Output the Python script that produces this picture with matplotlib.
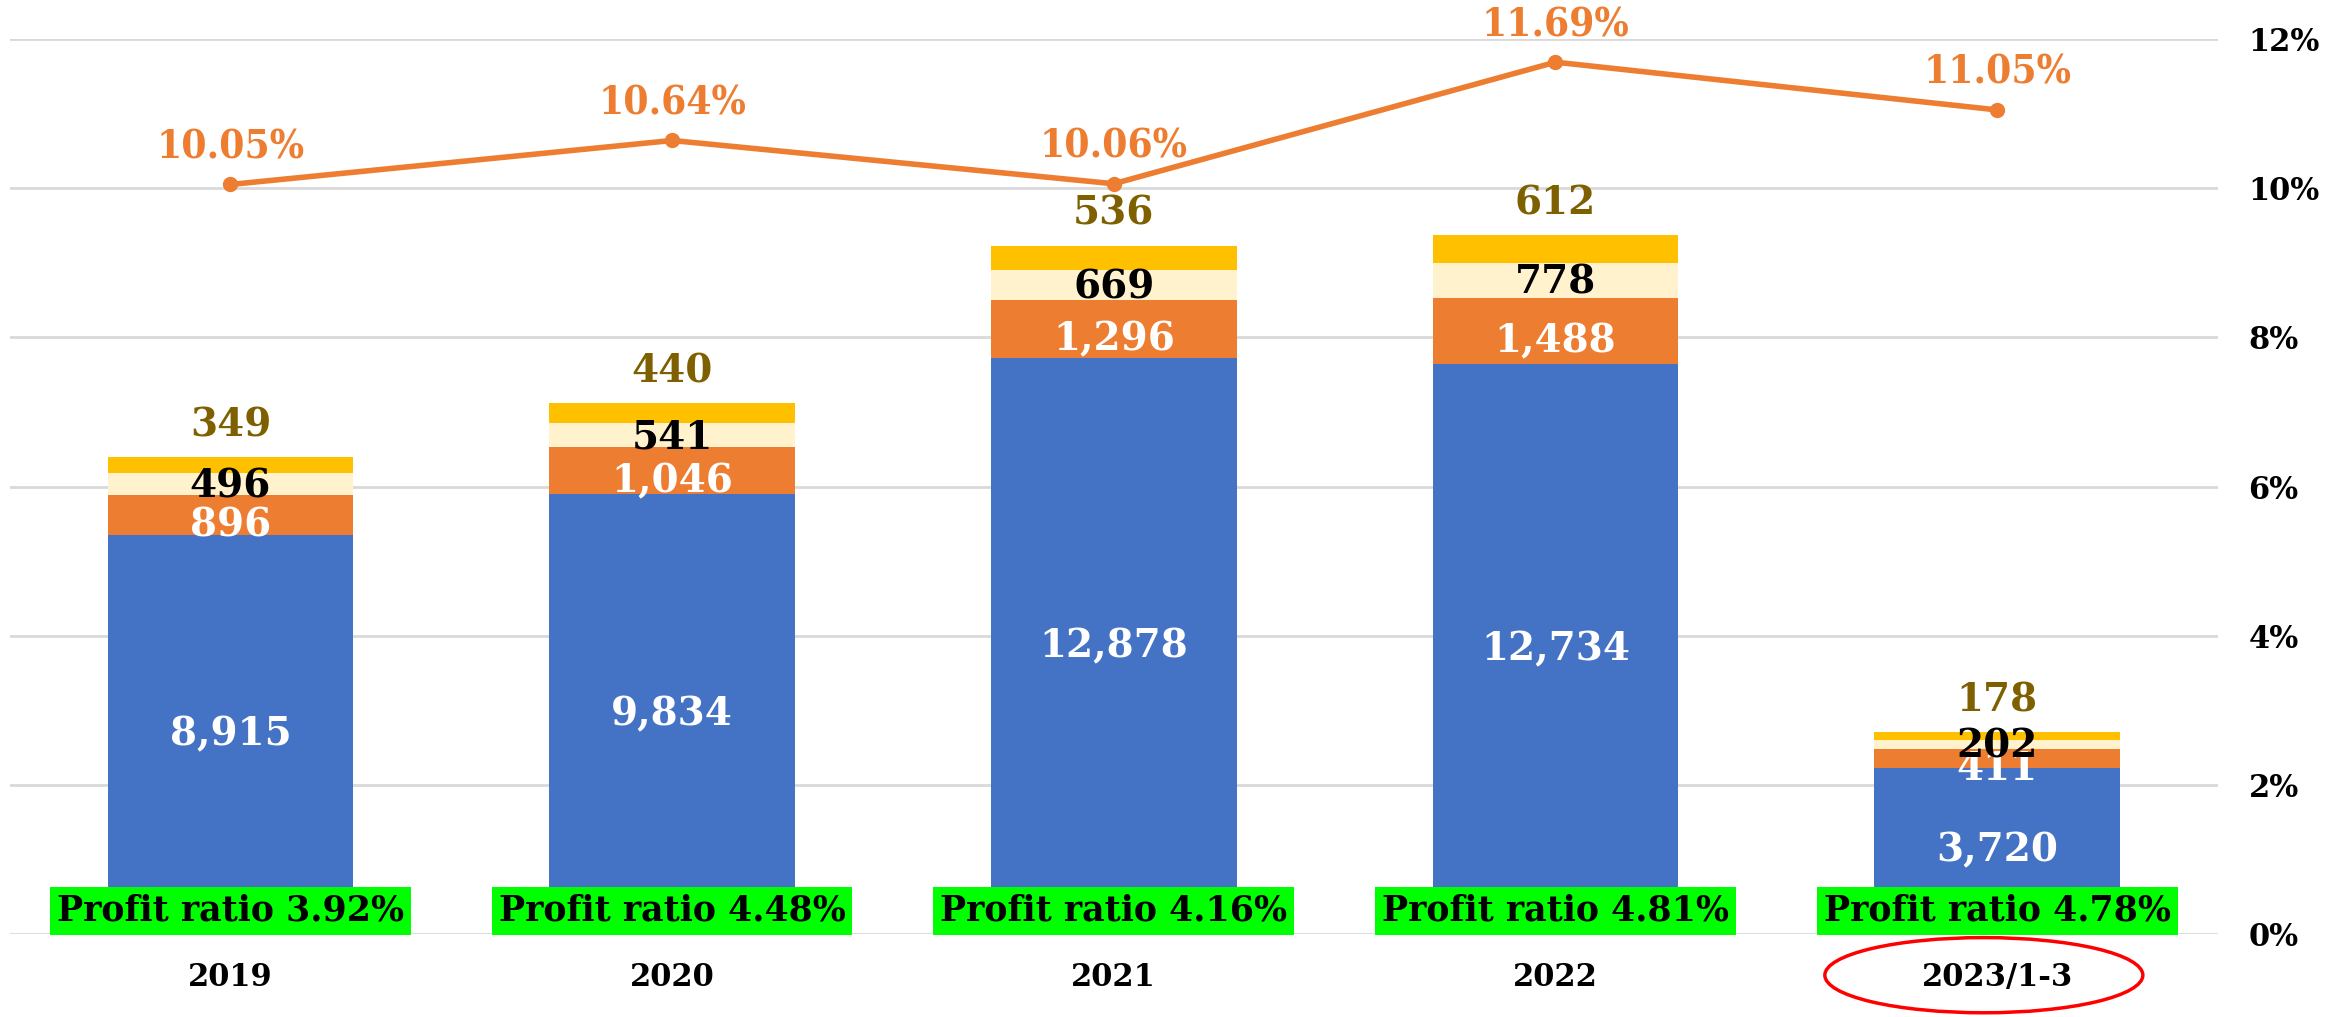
import matplotlib
matplotlib.use('Agg')
import matplotlib.pyplot as plt
import matplotlib.transforms as mtransforms
from matplotlib.patches import Ellipse
import numpy as np

# data
years = ['2019', '2020', '2021', '2022', '2023/1-3']
blue = [8915, 9834, 12878, 12734, 3720]
orange = [896, 1046, 1296, 1488, 411]
light = [496, 541, 669, 778, 202]
gold = [349, 440, 536, 612, 178]
line_pct = [10.05, 10.64, 10.06, 11.69, 11.05]
profit_ratio = ['3.92%', '4.48%', '4.16%', '4.81%', '4.78%']

c_blue = '#4472C4'
c_orange = '#ED7D31'
c_light = '#FFF2CC'
c_gold = '#FFC000'
c_goldtxt = '#7F6000'

serif = 'DejaVu Serif'
lab_fs = 28

fig = plt.figure(figsize=(23.48, 10.17), dpi=100)
ax = fig.add_axes([0.0041, 0.0816, 0.9405, 0.880])
ax2 = ax.twinx()

x = np.arange(len(years))
w = 0.556

b1 = np.array(blue)
b2 = b1 + np.array(orange)
b3 = b2 + np.array(light)

ax.bar(x, blue, w, color=c_blue, zorder=2)
ax.bar(x, orange, w, bottom=b1, color=c_orange, zorder=2)
ax.bar(x, light, w, bottom=b2, color=c_light, zorder=2)
ax.bar(x, gold, w, bottom=b3, color=c_gold, zorder=2)

ax.set_xlim(-0.5, 4.5)
ax.set_ylim(0, 20000)
ax.set_yticks(np.linspace(0, 20000, 7))
ax.set_yticklabels([])
ax.tick_params(axis='y', length=0)
ax.grid(axis='y', color='#D9D9D9', linewidth=2, zorder=0)
ax.set_axisbelow(True)
for s in ax.spines.values():
    s.set_visible(False)

ax.set_xticks(x)
ax.set_xticklabels(years, fontsize=22, fontweight='bold', family=serif)
ax.tick_params(axis='x', length=0, pad=20)

# segment labels
for i in range(len(x)):
    ax.text(x[i], blue[i] / 2, f'{blue[i]:,}', ha='center', va='center',
            color='white', fontsize=lab_fs, fontweight='bold', family=serif, zorder=4)
    ax.text(x[i], b1[i] + orange[i] / 2 - 240, f'{orange[i]:,}', ha='center', va='center',
            color='white', fontsize=lab_fs, fontweight='bold', family=serif, zorder=4)
    ax.text(x[i], b2[i] + light[i] / 2 - 50, f'{light[i]:,}', ha='center', va='center',
            color='black', fontsize=lab_fs, fontweight='bold', family=serif, zorder=4)
    ax.annotate(f'{gold[i]:,}', (x[i], b3[i] + gold[i]), xytext=(0, 15),
                textcoords='offset points', ha='center', va='baseline',
                color=c_goldtxt, fontsize=lab_fs, fontweight='bold', family=serif, zorder=4)

# line on secondary axis
ax2.plot(x, line_pct, color=c_orange, linewidth=4, marker='o', markersize=10, zorder=3)
ax2.set_ylim(0, 12)
ax2.set_yticks(np.arange(0, 13, 2))
ax2.set_yticklabels([f'{v}%' for v in range(0, 13, 2)], fontsize=22,
                    fontweight='bold', family=serif)
ax2.tick_params(axis='y', length=0, pad=22)
for s in ax2.spines.values():
    s.set_visible(False)

for i in range(len(x)):
    ax2.annotate(f'{line_pct[i]:.2f}%', (x[i], line_pct[i]), xytext=(0, 13),
                 textcoords='offset points', ha='center', va='bottom',
                 color=c_orange, fontsize=29, fontweight='bold', family=serif,
                 fontstretch='condensed', zorder=5)

# profit ratio boxes
trans = mtransforms.blended_transform_factory(ax2.transData, ax2.transAxes)
for i in range(len(x)):
    ax2.text(x[i], 0.007, 'Profit ratio ' + profit_ratio[i], transform=trans,
             ha='center', va='bottom', fontsize=25, fontweight='bold', family=serif,
             color='black', zorder=6,
             bbox=dict(boxstyle='square,pad=0.2', facecolor='#00FF00', edgecolor='none'))

# red ellipse around latest period
el = Ellipse((3.97, -0.046), 0.72, 0.084, transform=trans, fill=False,
             edgecolor='#FF0000', linewidth=2.5, clip_on=False, zorder=6)
ax2.add_patch(el)

fig.savefig('out.png', dpi=100)
